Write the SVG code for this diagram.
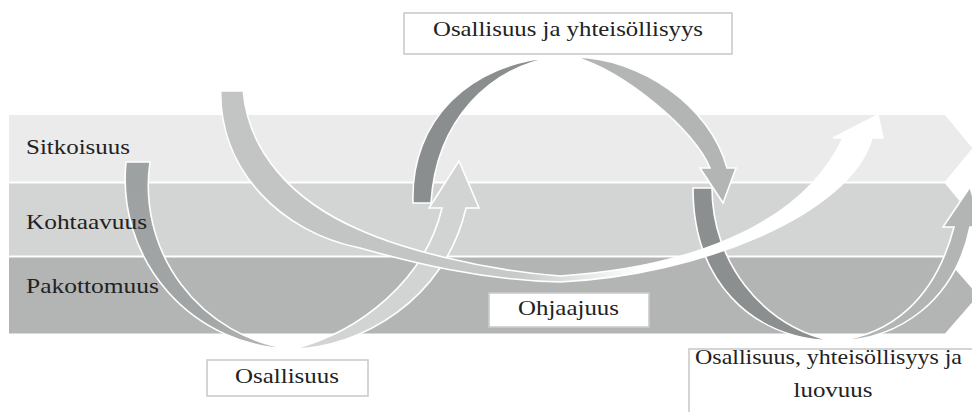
<svg xmlns="http://www.w3.org/2000/svg" width="972" height="412" viewBox="0 0 972 412">
  <style>
    .lbl { font-family: "Liberation Serif", "Times New Roman", serif; font-size: 22px; fill: #222222; }
    .box { fill: #ffffff; stroke: #cbcbcb; stroke-width: 1.6; }
    .arc { stroke: #ffffff; stroke-width: 1.6; stroke-linejoin: miter; }
  </style>
  <defs>
    <linearGradient id="swooshFill" gradientUnits="userSpaceOnUse" x1="420" y1="0" x2="640" y2="0">
      <stop offset="0" stop-color="#c3c4c4"/>
      <stop offset="0.45" stop-color="#c8c9c9"/>
      <stop offset="1" stop-color="#ffffff"/>
    </linearGradient>
    <linearGradient id="leftArcFill" gradientUnits="userSpaceOnUse" x1="130" y1="160" x2="290" y2="350">
      <stop offset="0" stop-color="#9ea1a2"/>
      <stop offset="0.7" stop-color="#a3a6a7"/>
      <stop offset="1" stop-color="#b7b9ba"/>
    </linearGradient>
  </defs>

  <!-- chevron bands -->
  <g id="band-sitkoisuus">
    <path d="M9,115 H945 L972.5,148.25 L945,181.5 H9 Z" fill="#ebebeb"/>
  </g>
  <g id="band-kohtaavuus">
    <path d="M9,183.5 H945 L975,219.5 L945,255.5 H9 Z" fill="#d3d4d4"/>
  </g>
  <g id="band-pakottomuus">
    <path d="M9,257.5 H945 L978,295.5 L945,333.5 H9 Z" fill="#b3b4b4"/>
  </g>

  <!-- curved arrows -->
  <g id="connectors">
    <!-- second loop, rising half -->
    <path class="arc" d="M413,203 C410,120 470,62 557,57 C490,66 436,120 431,203 Z" fill="#8b8e8f"/>
    <!-- first loop, falling half -->
    <path class="arc" d="M126,162 L150,162 A165,165 0 0 0 290,349 A170,170 0 0 1 126,162 Z" fill="url(#leftArcFill)"/>
    <!-- third loop, falling half -->
    <path class="arc" d="M693,188 L712,188 C712,260 760,325 832,341 C750,338 693,280 693,188 Z" fill="#8c8f90"/>
    <!-- second loop, descending arrow -->
    <path class="arc" d="M575,57 C640,58 710,105 727,168 L736,168 L723,203 L700,168 L710,168 C695,130 625,72 575,57 Z" fill="#b3b5b5"/>
    <!-- first loop, rising arrow -->
    <path class="arc" d="M293,349 C360,348 445,300 466,208 L479,208 L459,161 L429,208 L442,208 C425,280 360,332 293,349 Z" fill="#d2d4d4"/>
    <!-- third loop, rising arrow -->
    <path class="arc" d="M836,341 C890,335 935,300 954,227 L943,227 L970,187 L982,227 L970,227 C955,300 900,340 836,341 Z" fill="#b3b5b5"/>
    <!-- long swoosh across all bands -->
    <path class="arc" d="M220.7,91 L243.3,91 C248,150 290,200 360,230 C400,248 480,270 560,276 C680,268 800,230 843,138 L833,138 L878,115 L883,138 L872,138 C850,215 700,275 560,282 C480,280 410,262 360,248 C280,232 220,170 220.7,91 Z" fill="url(#swooshFill)"/>
  </g>

  <!-- band names, printed over the arrows -->
  <g id="name-sitkoisuus">
    <text class="lbl" x="26" y="153.5" textLength="104" lengthAdjust="spacingAndGlyphs">Sitkoisuus</text>
  </g>
  <g id="name-kohtaavuus">
    <text class="lbl" x="26" y="228.5" textLength="121" lengthAdjust="spacingAndGlyphs">Kohtaavuus</text>
  </g>
  <g id="name-pakottomuus">
    <text class="lbl" x="26" y="293" textLength="133" lengthAdjust="spacingAndGlyphs">Pakottomuus</text>
  </g>

  <!-- captions -->
  <g id="label-osallisuus-yhteisollisyys">
    <rect class="box" x="404" y="13" width="328" height="41"/>
    <text class="lbl" x="568" y="35.5" text-anchor="middle" textLength="270" lengthAdjust="spacingAndGlyphs">Osallisuus ja yhteisöllisyys</text>
  </g>
  <g id="label-ohjaajuus">
    <rect class="box" x="489" y="293" width="160" height="34"/>
    <text class="lbl" x="568.5" y="315" text-anchor="middle" textLength="101" lengthAdjust="spacingAndGlyphs">Ohjaajuus</text>
  </g>
  <g id="label-osallisuus">
    <rect class="box" x="207" y="360" width="161" height="36"/>
    <text class="lbl" x="287" y="383" text-anchor="middle" textLength="104" lengthAdjust="spacingAndGlyphs">Osallisuus</text>
  </g>
  <g id="label-osallisuus-luovuus">
    <rect class="box" x="689" y="349" width="300" height="80"/>
    <text class="lbl" x="828.5" y="364" text-anchor="middle" textLength="267" lengthAdjust="spacingAndGlyphs">Osallisuus, yhteisöllisyys ja</text>
    <text class="lbl" x="833" y="397" text-anchor="middle" textLength="79" lengthAdjust="spacingAndGlyphs">luovuus</text>
  </g>
</svg>
